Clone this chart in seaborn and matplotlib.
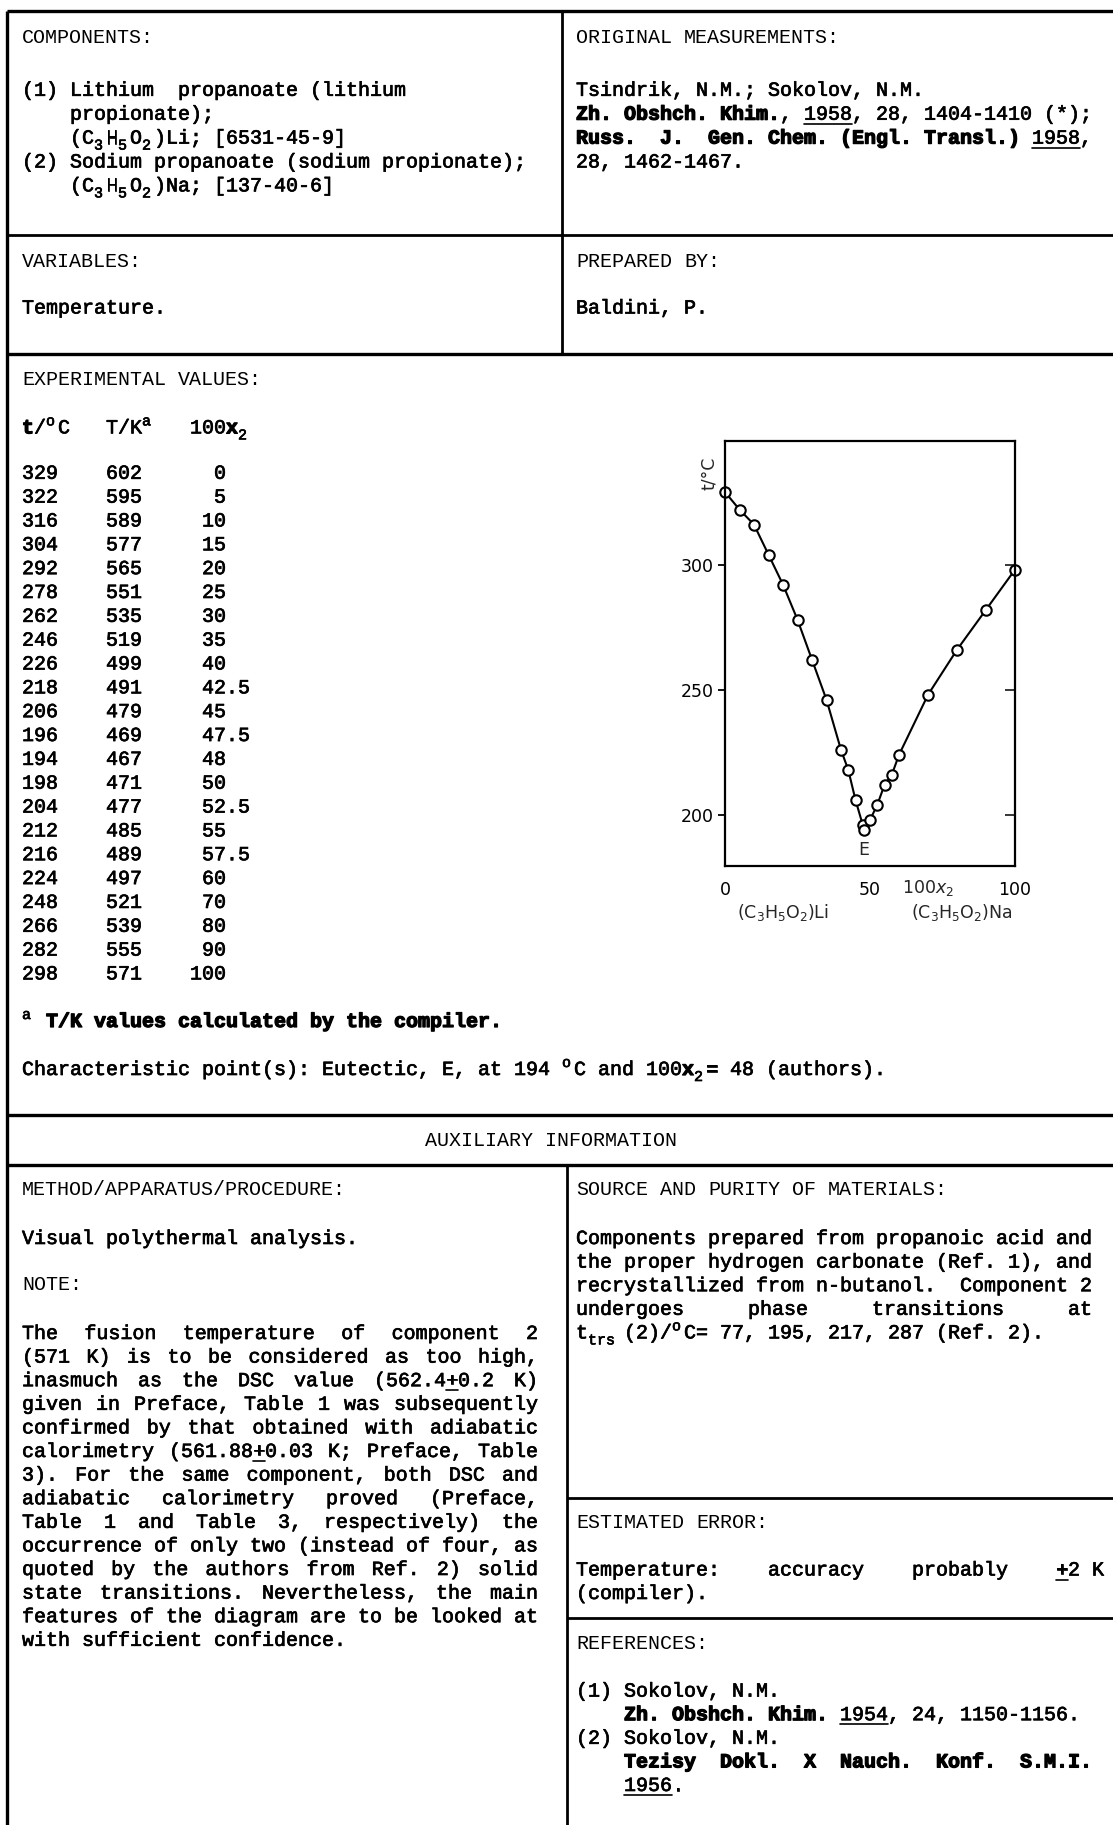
import numpy as np
import pandas as pd
import seaborn as sns
import matplotlib.pyplot as plt
from matplotlib import patheffects as pe

# ---- data ----
x2 = [0, 5, 10, 15, 20, 25, 30, 35, 40, 42.5, 45, 47.5, 48, 50,
      52.5, 55, 57.5, 60, 70, 80, 90, 100]
t_c = [329, 322, 316, 304, 292, 278, 262, 246, 226, 218, 206, 196, 194, 198,
       204, 212, 216, 224, 248, 266, 282, 298]
T_k = [602, 595, 589, 577, 565, 551, 535, 519, 499, 491, 479, 469, 467, 471,
       477, 485, 489, 497, 521, 539, 555, 571]
y_ticks = [200, 250, 300]
x_ticks = [0, 50, 100]
eutectic_x, eutectic_t = 48, 194

W, H = 1113, 1825
CW = 12.0                 # typewriter cell width (px)
FS = CW / 0.6 * 0.72      # font size in pt at dpi 100
MONO = "Liberation Mono"
CFS = 12.5                # font size inside the diagram

sns.set_theme(style="white")
plt.rcParams["font.family"] = ["DejaVu Sans"]

fig = plt.figure(figsize=(W / 100, H / 100), dpi=100)
bg = fig.add_axes([0, 0, 1, 1])
bg.set_xlim(0, W)
bg.set_ylim(H, 0)
bg.axis("off")

normal_fx = [pe.withStroke(linewidth=0.5, foreground="black")]
bold_fx = [pe.withStroke(linewidth=0.9, foreground="black")]


def parse(s):
    chars = []
    bold = under = False
    i = 0
    while i < len(s):
        if s.startswith("**", i):
            bold = not bold
            i += 2
            continue
        if s.startswith("__", i):
            under = not under
            i += 2
            continue
        if s[i] in "_^" and i + 1 < len(s) and s[i + 1] == "{":
            j = s.index("}", i)
            sc = "sub" if s[i] == "_" else "sup"
            for ch in s[i + 2:j]:
                chars.append((ch, bold, under, sc))
            i = j + 1
            continue
        chars.append((s[i], bold, under, None))
        i += 1
    return chars


def line(x0, yc, s, width=None, header=False):
    chars = parse(s)
    n = len(chars)
    # count word gaps for justification
    gaps, seen, prev_sp = 0, False, False
    for c in chars:
        if c[0] != " ":
            if seen and prev_sp:
                gaps += 1
            seen = True
        prev_sp = c[0] == " "
    extra = (width - n) / gaps if (width and gaps) else 0
    pos = []
    g, seen, prev_sp = 0, False, False
    for k, c in enumerate(chars):
        if c[0] != " ":
            if seen and prev_sp:
                g += 1
            seen = True
        prev_sp = c[0] == " "
        pos.append(x0 + CW * (k + g * extra))
    yb = yc + 5
    k = 0
    while k < n:
        if chars[k][0] == " ":
            k += 1
            continue
        st = chars[k][1:]
        m = k
        while m < n and chars[m][0] != " " and chars[m][1:] == st:
            m += 1
        txt = "".join(c[0] for c in chars[k:m])
        bold, under, sc = st
        fs, dy = FS, 0
        if sc == "sub":
            fs, dy = FS * 0.75, 6
        elif sc == "sup":
            fs, dy = FS * 0.75, -8
        if header:
            fx = None
        else:
            fx = bold_fx if bold else normal_fx
        bg.text(pos[k], yb + dy, txt, fontsize=fs, family=MONO,
                fontweight="bold" if bold else "normal", va="baseline", ha="left",
                color="black", path_effects=fx)
        if under:
            bg.plot([pos[k], pos[m - 1] + CW], [yb + 4, yb + 4], color="black", lw=1.2)
        k = m


def hline(y, x0, x1, lw=2.0):
    bg.plot([x0, x1], [y, y], color="black", lw=lw, solid_capstyle="butt")


def vline(x, y0, y1, lw=2.0):
    bg.plot([x, x], [y0, y1], color="black", lw=lw, solid_capstyle="butt")


# ---- frame ----
L, R = 7, W
hline(10.5, L, R, 2.4)
vline(L, 10.5, H, 2.4)
vline(562, 10.5, 354)
hline(235, L, R)
hline(354, L, R, 2.4)
hline(1115, L, R, 2.4)
hline(1165, L, R, 2.4)
vline(567, 1165, H)
hline(1498, 567, R)
hline(1618, 567, R)

XL, XR = 22, 576
STEP = 23.6

# ---- top left ----
line(XL, 38.4, "COMPONENTS:", header=True)
top_left = ["(1) Lithium  propanoate (lithium",
            "    propionate);",
            "    (C_{3}H_{5}O_{2})Li; [6531-45-9]",
            "(2) Sodium propanoate (sodium propionate);",
            "    (C_{3}H_{5}O_{2})Na; [137-40-6]"]
for i, s in enumerate(top_left):
    line(XL, 90.8 + i * 23.9, s)
line(XL, 262, "VARIABLES:", header=True)
line(XL, 308.5, "Temperature.")

# ---- top right ----
line(XR, 38.4, "ORIGINAL MEASUREMENTS:", header=True)
top_right = ["Tsindrik, N.M.; Sokolov, N.M.",
             "**Zh. Obshch. Khim.**, __1958__, 28, 1404-1410 (*);",
             "**Russ.  J.  Gen. Chem. (Engl. Transl.)** __1958__,",
             "28, 1462-1467."]
for i, s in enumerate(top_right):
    line(XR, 90.8 + i * 23.9, s)
line(XR, 262, "PREPARED BY:", header=True)
line(XR, 308.5, "Baldini, P.")

# ---- experimental values table ----
line(XL, 379.5, "EXPERIMENTAL VALUES:", header=True)
line(XL, 428.4, "**t**/^{o}C   T/K^{a}   100**x**_{2}")
for i, (t, T, x) in enumerate(zip(t_c, T_k, x2)):
    xs = f"{int(x):>3}" + ("" if float(x).is_integer() else f".{int(round((x % 1) * 10))}")
    line(XL, 473.8 + i * 23.84, f"{t:<7}{T:<7}{xs}")
line(XL, 1022, "^{a} **T/K values calculated by the compiler.**")
line(XL, 1070, "Characteristic point(s): Eutectic, E, at 194 ^{o}C and 100**x**_{2}= 48 (authors).")

# ---- auxiliary information ----
bg.text(551, 1146, "AUXILIARY INFORMATION", fontsize=FS, family=MONO,
        ha="center", va="baseline", color="black")

line(XL, 1190, "METHOD/APPARATUS/PROCEDURE:", header=True)
line(XL, 1239, "Visual polythermal analysis.")
line(XL, 1285, "NOTE:", header=True)
note = ["The fusion temperature of component 2",
        "(571 K) is to be considered as too high,",
        "inasmuch as the DSC value (562.4__+__0.2 K)",
        "given in Preface, Table 1 was subsequently",
        "confirmed by that obtained with adiabatic",
        "calorimetry (561.88__+__0.03 K; Preface, Table",
        "3). For the same component, both DSC and",
        "adiabatic calorimetry proved (Preface,",
        "Table 1 and Table 3, respectively) the",
        "occurrence of only two (instead of four, as",
        "quoted by the authors from Ref. 2) solid",
        "state transitions. Nevertheless, the main",
        "features of the diagram are to be looked at",
        "with sufficient confidence."]
for i, s in enumerate(note):
    line(XL, 1334 + i * STEP, s, width=43 if i < len(note) - 1 else None)

line(XR, 1190, "SOURCE AND PURITY OF MATERIALS:", header=True)
source = ["Components prepared from propanoic acid and",
          "the proper hydrogen carbonate (Ref. 1), and",
          "recrystallized from n-butanol.  Component 2",
          "undergoes phase transitions at",
          "t_{trs}(2)/^{o}C= 77, 195, 217, 287 (Ref. 2)."]
for i, s in enumerate(source):
    line(XR, 1239 + i * STEP, s, width=43 if i < len(source) - 1 else None)

line(XR, 1523, "ESTIMATED ERROR:", header=True)
line(XR, 1570.5, "Temperature:    accuracy    probably    __+__2 K")
line(XR, 1594, "(compiler).")

line(XR, 1644, "REFERENCES:", header=True)
refs = ["(1) Sokolov, N.M.",
        "    **Zh. Obshch. Khim.** __1954__, 24, 1150-1156.",
        "(2) Sokolov, N.M.",
        "    **Tezisy  Dokl.  X  Nauch.  Konf.  S.M.I.**",
        "    __1956__."]
for i, s in enumerate(refs):
    line(XR, 1691.6 + i * 23.6, s)

# ---- phase diagram ----
ax = fig.add_axes([725 / W, 1 - 866 / H, 290 / W, 425 / H])
df = pd.DataFrame({"x2": x2, "t": t_c})
sns.lineplot(data=df, x="x2", y="t", ax=ax, sort=False, color="black", lw=1.5,
             marker="o", markersize=7.5, markerfacecolor="white",
             markeredgecolor="black", markeredgewidth=1.5)
for ln in ax.lines:
    ln.set_clip_on(False)
ax.set_xlim(0, 100)
ax.set_ylim(179.6, 349.4)
ax.set_xlabel("")
ax.set_ylabel("")
for sp in ax.spines.values():
    sp.set_visible(True)
    sp.set_color("black")
    sp.set_linewidth(1.6)
ax.set_yticks(y_ticks)
ax.set_xticks(x_ticks)
ax.tick_params(axis="y", direction="out", length=5, width=1.3, labelsize=CFS, pad=3,
               left=True, colors="black")
ax.tick_params(axis="x", length=0, labelsize=CFS, pad=11, colors="black")
sec = ax.secondary_yaxis("right")
sec.set_yticks(y_ticks)
sec.tick_params(direction="in", length=7, width=1.3, labelright=False)

ax.text(70, -0.052, "100$x_2$", transform=ax.get_xaxis_transform(),
        ha="center", va="center", fontsize=CFS)
ax.text(20, -0.11, "(C$_3$H$_5$O$_2$)Li", transform=ax.get_xaxis_transform(),
        ha="center", va="center", fontsize=CFS)
ax.text(81.5, -0.11, "(C$_3$H$_5$O$_2$)Na", transform=ax.get_xaxis_transform(),
        ha="center", va="center", fontsize=CFS)
ax.text(-0.055, 0.925, "t/°C", transform=ax.transAxes, rotation=90,
        ha="center", va="center", fontsize=CFS)
ax.text(eutectic_x, eutectic_t - 8, "E", ha="center", va="center", fontsize=CFS)

fig.savefig("out.png", dpi=100, facecolor="white")
